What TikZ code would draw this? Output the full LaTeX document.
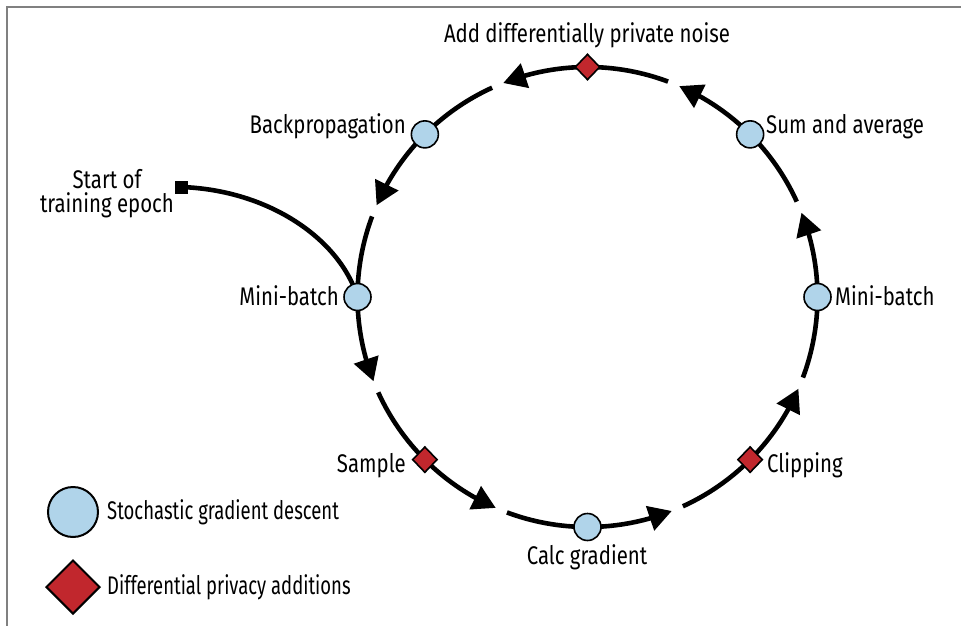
\documentclass[tikz,border=0pt]{standalone}
\usepackage{fontspec}
\setmainfont[FakeStretch=0.8]{Fira Sans}
\newfontfamily\legfont[FakeStretch=0.725]{Fira Sans}
\usetikzlibrary{arrows.meta,shapes.geometric,calc,bending}
\definecolor{sgdblue}{HTML}{B0D4EA}
\definecolor{dpred}{HTML}{C1272D}
\definecolor{framegray}{HTML}{808080}
\pgfdeclarelayer{bg}
\pgfsetlayers{bg,main}
\tikzset{
  ring/.style={line width=4.6pt, black},
  arr/.style={ring, -{Triangle[length=23pt,width=25pt]}},
  sgd/.style={circle, draw=black, line width=1.6pt, fill=sgdblue, minimum size=27pt, inner sep=0pt},
  dp/.style={diamond, draw=black, line width=1.6pt, fill=dpred, minimum width=25pt, minimum height=26pt, inner sep=0pt},
  lbl/.style={font=\fontsize{25.5}{25}\selectfont, inner sep=0pt},
  leglbl/.style={font=\legfont\fontsize{25.5}{25}\selectfont, inner sep=0pt},
}
\begin{document}
\begin{tikzpicture}[x=1pt,y=1pt]
\useasboundingbox (0,0) rectangle (961,-626);
\draw[framegray, line width=1.5pt] (7,-626) -- (7,-7) -- (961,-7);
\coordinate (C) at (587.5,-297);
% nodes on the ring
\node[sgd] (mbL) at ([shift={(180:230)}]C) {};
\node[dp]  (smp) at ([shift={(225:230)}]C) {};
\node[sgd] (cg)  at ([shift={(270:230)}]C) {};
\node[dp]  (clp) at ([shift={(315:230)}]C) {};
\node[sgd] (mbR) at ([shift={(0:230)}]C) {};
\node[sgd] (sum) at ([shift={(45:230)}]C) {};
\node[dp]  (nse) at ([shift={(90:230)}]C) {};
\node[sgd] (bp)  at ([shift={(135:230)}]C) {};
\node[fill=black, minimum size=13pt, inner sep=0pt] (st) at (181,-187) {};
\begin{pgfonlayer}{bg}
\foreach \n/\m/\a in {mbL/smp/180, smp/cg/225, cg/clp/270, clp/mbR/315, mbR/sum/360, sum/nse/405, nse/bp/450, bp/mbL/495}{
  \draw[arr] (\n.center) arc[start angle=\a, delta angle=21.5, radius=230pt];
  \draw[ring] ([shift={(\a+24.5:230)}]C) arc[start angle=\a+24.5, end angle=\a+45, radius=230pt];
}
\draw[ring] (st.center) .. controls (270,-190) and (340,-240) .. (mbL.center);
\end{pgfonlayer}
% labels
\node[lbl, anchor=base] (tnse) at (587,-43) {Add differentially private noise};
\node[lbl, anchor=base east] (tbp) at (406,-133) {Backpropagation};
\node[lbl, anchor=base west] (tsum) at (766,-133) {Sum and average};
\node[lbl, anchor=base east] (tmbL) at (339,-305) {Mini-batch};
\node[lbl, anchor=base west] (tmbR) at (835,-305) {Mini-batch};
\node[lbl, anchor=base east] (tsmp) at (406,-472) {Sample};
\node[lbl, anchor=base west] (tclp) at (767,-472) {Clipping};
\node[lbl, anchor=base] (tcg) at (587,-564) {Calc gradient};
\node[lbl, anchor=base, align=center] (tst) at (107,-212) {Start of\\[-1pt]training epoch};
% legend
\node[sgd, minimum size=50pt, line width=2pt] (lsgd) at (73,-512) {};
\node[dp, minimum width=54pt, minimum height=54pt, line width=2pt] (ldp) at (73,-587) {};
\node[leglbl, anchor=base west] (tlsgd) at (107,-519) {Stochastic gradient descent};
\node[leglbl, anchor=base west] (tldp) at (107,-594) {Differential privacy additions};
\end{tikzpicture}
\end{document}
